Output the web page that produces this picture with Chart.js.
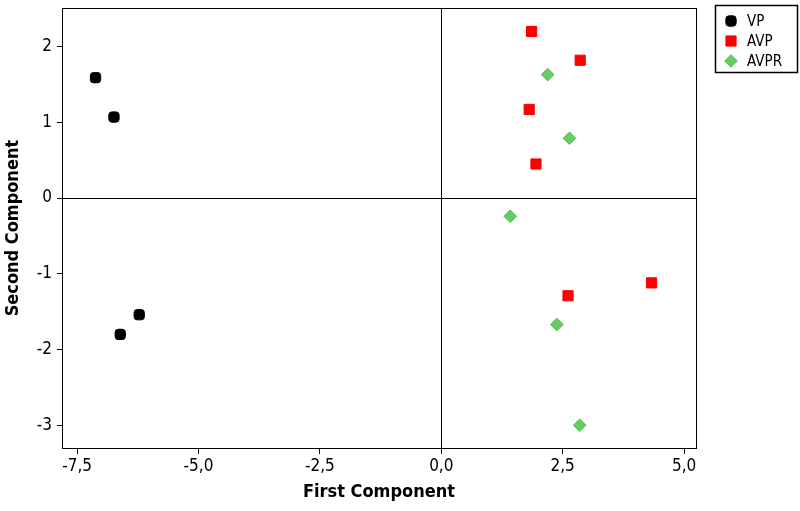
<!DOCTYPE html>
<html><head><meta charset="utf-8">
<script src="https://cdn.jsdelivr.net/npm/chart.js@4/dist/chart.umd.min.js"></script>
<style>html,body{margin:0;padding:0;background:#fff}#wrap{width:800px;height:511px}</style>
</head><body><div id="wrap"><canvas id="c" width="800" height="511"></canvas></div>
<script>
const seriesNames = ['VP', 'AVP', 'AVPR'];
const vpX = [-7.12, -6.74, -6.22, -6.61];
const vpY = [1.59, 1.07, -1.54, -1.80];
const avpX = [1.86, 2.86, 1.81, 1.95, 4.33, 2.61];
const avpY = [2.20, 1.82, 1.17, 0.45, -1.12, -1.29];
const avprX = [2.19, 2.64, 1.42, 2.38, 2.85];
const avprY = [1.63, 0.79, -0.24, -1.67, -3.00];
const xTicks = [-7.5, -5, -2.5, 0, 2.5, 5];
const yTicks = [-3, -2, -1, 0, 1, 2];

const pts = (xs, ys) => xs.map((x, i) => ({x, y: ys[i]}));
const FONT = '"DejaVu Sans Condensed", "DejaVu Sans", Verdana, sans-serif';

const frame = {
  id: 'frame',
  afterDraw(chart) {
    const {ctx, chartArea: a} = chart;
    ctx.save();
    ctx.strokeStyle = '#000'; ctx.lineWidth = 1;
    ctx.strokeRect(Math.round(a.left) + 0.5, Math.round(a.top) + 0.5, Math.round(a.right - a.left), Math.round(a.bottom - a.top));
    // legend
    const lx = 715, ly = 5, lw = 82, lh = 67;
    ctx.lineWidth = 1.5;
    ctx.strokeRect(lx + 0.5, ly + 0.5, lw, lh);
    ctx.font = '15px ' + FONT;
    ctx.textBaseline = 'middle';
    chart.data.datasets.forEach((ds, i) => {
      const cy = ly + 16 + i * 20;
      const cx = lx + 16;
      ctx.fillStyle = ds.backgroundColor;
      ctx.strokeStyle = ds.borderColor;
      ctx.lineWidth = 1;
      Chart.helpers.drawPoint(ctx, {pointStyle: ds.pointStyle, radius: ds.pointRadius, borderWidth: 1, rotation: 0}, cx, cy);
      ctx.fillStyle = '#000';
      ctx.fillText(ds.label, lx + 32, cy + 1);
    });
    ctx.restore();
  }
};

new Chart(document.getElementById('c'), {
  type: 'scatter',
  data: {
    datasets: [
      {label: seriesNames[0], data: pts(vpX, vpY), pointStyle: 'rectRounded', pointRadius: 6, backgroundColor: '#000', borderColor: '#000', borderWidth: 1},
      {label: seriesNames[1], data: pts(avpX, avpY), pointStyle: 'rect', pointRadius: 7.2, backgroundColor: '#ff0000', borderColor: '#ff0000', borderWidth: 1},
      {label: seriesNames[2], data: pts(avprX, avprY), pointStyle: 'rectRot', pointRadius: 6.3, backgroundColor: '#66cc66', borderColor: '#4cbb4c', borderWidth: 1}
    ]
  },
  options: {
    responsive: false,
    animation: false,
    layout: {padding: {top: 1.5, right: 104, left: 0, bottom: 0}},
    plugins: {legend: {display: false}, tooltip: {enabled: false}},
    scales: {
      x: {
        type: 'linear', min: -7.81, max: 5.245,
        afterBuildTicks: s => { s.ticks = xTicks.map(v => ({value: v})); },
        afterFit: s => { s.height = 63; s.paddingLeft = 0; s.paddingRight = 0; },
        border: {display: false},
        grid: {color: c => c.tick && c.tick.value === 0 ? '#000' : 'rgba(0,0,0,0)', tickColor: '#000', tickLength: 6, drawOnChartArea: true, lineWidth: 1},
        ticks: {color: '#000', font: {family: FONT, size: 17}, padding: 2, maxRotation: 0,
          callback: v => v.toFixed(1).replace('.', ',')},
        title: {display: true, text: 'First Component', color: '#000', font: {family: FONT, size: 18, weight: 'bold'}, padding: {top: 2, bottom: 8}}
      },
      y: {
        type: 'linear', min: -3.30, max: 2.507,
        afterBuildTicks: s => { s.ticks = yTicks.map(v => ({value: v})); },
        afterFit: s => { s.width = 62; s.paddingTop = 0; s.paddingBottom = 0; },
        border: {display: false},
        grid: {color: c => c.tick && c.tick.value === 0 ? '#000' : 'rgba(0,0,0,0)', tickColor: '#000', tickLength: 5, lineWidth: 1},
        ticks: {color: '#000', font: {family: FONT, size: 17}, padding: 5,
          callback: v => String(v)},
        title: {display: true, text: 'Second Component', color: '#000', font: {family: FONT, size: 18, weight: 'bold'}, padding: {top: 3, bottom: 4}}
      }
    }
  },
  plugins: [frame]
});
</script>
</body></html>
